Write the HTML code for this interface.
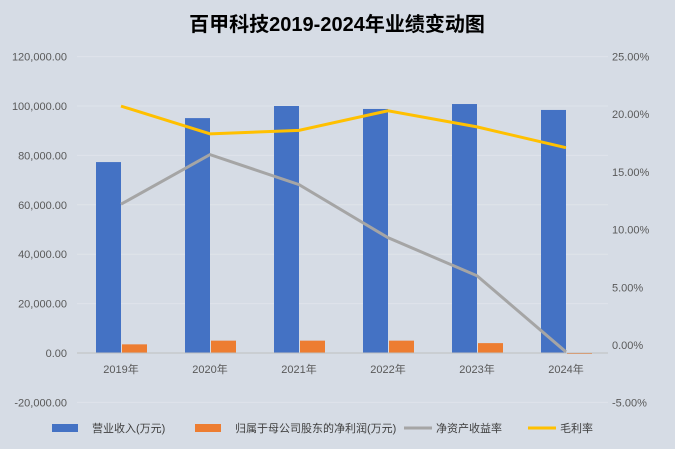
<!DOCTYPE html>
<html><head><meta charset="utf-8">
<style>
body{margin:0;background:#d6dce5;}
svg{display:block;font-family:"Liberation Sans","Noto Sans CJK SC",sans-serif;}
</style></head>
<body>
<svg id="chart" width="675" height="449">
<rect x="0" y="0" width="675" height="449" fill="#d6dce5"/>
<text x="337" y="31" text-anchor="middle" font-size="20" font-weight="bold" fill="#000">百甲科技2019-2024年业绩变动图</text>
<g id="grid"></g><g id="bars"></g><g id="lines"></g><g id="axes"></g><g id="legend"></g>
</svg>
<script>
const categories=["2019年","2020年","2021年","2022年","2023年","2024年"];
const revenue=[77300,95100,100000,98800,100800,98400];
const netProfit=[3500,5000,5000,5000,4000,-400];
const roe=[12.2,16.5,13.9,9.3,6.0,-0.6];
const grossMargin=[20.7,18.3,18.6,20.3,18.9,17.1];
const leftTicks=[120000,100000,80000,60000,40000,20000,0,-20000];
const rightTicks=[25,20,15,10,5,0,-5];
const NS="http://www.w3.org/2000/svg";
function yL(v){return 353-(v/20000)*49.4;}
function yR(v){return 345-(v/5)*57.7;}
function xC(i){return 121+89*i;}
function mk(tag,attrs,parent,text){const e=document.createElementNS(NS,tag);for(const k in attrs)e.setAttribute(k,attrs[k]);if(text!==undefined)e.textContent=text;document.getElementById(parent).appendChild(e);return e;}
leftTicks.forEach(t=>{
  const g=mk("line",{x1:77,x2:608,y1:yL(t),y2:yL(t),stroke:"#dfe3ea","stroke-width":1},"grid");
  
  
  const l=mk("text",{x:67,y:yL(t)+4,"text-anchor":"end","font-size":11,fill:"#595959"},"axes",t.toLocaleString("en-US",{minimumFractionDigits:2}));
  
  
});
rightTicks.forEach(t=>{
  const l=mk("text",{x:612,y:yR(t)+4,"font-size":11,fill:"#595959"},"axes",t.toFixed(2)+"%");
  
  
});
const ax=mk("line",{x1:77,x2:608,y1:yL(0),y2:yL(0),stroke:"#bfbfbf","stroke-width":1},"axes");


categories.forEach((c,i)=>{
  const l=mk("text",{x:xC(i),y:373,"text-anchor":"middle","font-size":11,fill:"#595959"},"axes",c);
  
  
  const r=mk("rect",{x:xC(i)-25,y:Math.min(yL(revenue[i]),yL(0)),width:25,height:Math.abs(yL(revenue[i])-yL(0)),fill:"#4472c4"},"bars");
  
  
  const p=mk("rect",{x:xC(i)+1,y:Math.min(yL(netProfit[i]),yL(0)),width:25,height:Math.max(1,Math.abs(yL(netProfit[i])-yL(0))),fill:"#ed7d31"},"bars");
  
  
});
const roeLine=mk("polyline",{points:roe.map((v,i)=>xC(i)+","+yR(v)).join(" "),fill:"none",stroke:"#a5a5a5","stroke-width":3},"lines");


const gmLine=mk("polyline",{points:grossMargin.map((v,i)=>xC(i)+","+yR(v)).join(" "),fill:"none",stroke:"#ffc000","stroke-width":3},"lines");


const leg=[["rect","#4472c4","营业收入(万元)",52],["rect","#ed7d31","归属于母公司股东的净利润(万元)",195],["line","#a5a5a5","净资产收益率",404],["line","#ffc000","毛利率",528]];
leg.forEach(([t,col,txt,x])=>{
  if(t==="rect"){const m=mk("rect",{x:x,y:424,width:26,height:8,fill:col},"legend");}
  else{const m=mk("line",{x1:x,x2:x+28,y1:428,y2:428,stroke:col,"stroke-width":3},"legend");}
  const l=mk("text",{x:x+(t==="rect"?40:32),y:432,"font-size":11,fill:"#404040"},"legend",txt);
  
  
});
</script>
</body></html>
